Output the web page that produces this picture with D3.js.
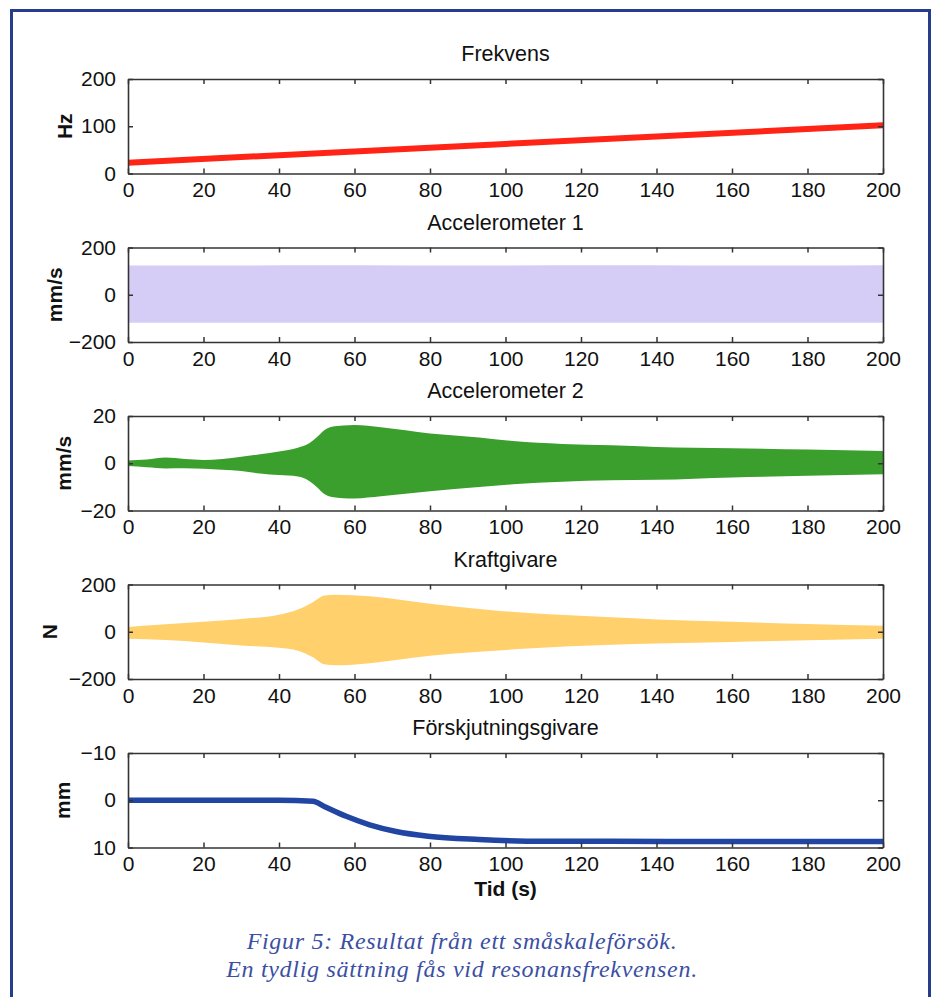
<!DOCTYPE html>
<html>
<head>
<meta charset="utf-8">
<script src="https://cdn.jsdelivr.net/npm/d3@7"></script>
<style>
  body { margin: 0; background: #fff; }
  svg { display: block; }
  .tick text, .lbl { font-family: "Liberation Sans", Arial, sans-serif; fill: #111; }
</style>
</head>
<body>
<div id="vis-container"></div>
<script>
// --- data ---
var xTicks = [0, 20, 40, 60, 80, 100, 120, 140, 160, 180, 200];

// Frekvens (Hz)
var freqT = [0, 200];
var freqHz = [23, 102];

// Accelerometer 1 (mm/s) envelope
var acc1T = [0, 25, 50, 75, 100, 125, 150, 175, 200];
var acc1Upper = [124, 124, 125, 124, 124, 125, 124, 124, 125];
var acc1Lower = [-118, -118, -119, -118, -118, -119, -118, -118, -119];

// Accelerometer 2 (mm/s) envelope
var acc2T = [0, 5, 10, 15, 20, 25, 30, 35, 40, 45, 48, 50, 52, 54, 57, 60, 67, 80, 93, 102, 115, 128, 140, 160, 180, 200];
var acc2Upper = [1.2, 1.6, 2.4, 1.8, 1.4, 1.8, 2.7, 3.8, 5.0, 6.6, 8.5, 11, 14, 15.5, 16, 16.2, 15.2, 12.6, 10.9, 9.4, 8.2, 7.6, 6.9, 6.4, 5.8, 5.2];
var acc2Lower = [-1.2, -1.7, -2.2, -2.1, -2.3, -2.7, -3.3, -4.3, -5.0, -5.6, -7.5, -10, -13, -14.3, -14.8, -14.9, -14, -11.9, -10.1, -8.9, -7.8, -7.2, -7.0, -6.0, -5.3, -4.7];

// Kraftgivare (N) envelope
var forceT = [0, 10, 20, 30, 40, 45, 49, 52, 55, 64, 80, 93, 106, 128, 140, 160, 180, 200];
var forceUpper = [20, 32, 42, 54, 72, 94, 125, 153, 157, 150, 118, 96, 79, 61, 52, 42, 33, 25];
var forceLower = [-30, -35, -45, -58, -68, -80, -108, -138, -142, -133, -102, -85, -71, -55, -50, -43, -36, -30];

// Förskjutningsgivare (mm)
var dispT = [0, 20, 40, 49, 52, 57.8, 64, 71, 79.5, 93, 110, 128, 160, 200];
var dispMm = [0, 0, 0, 0.2, 1.3, 3.4, 5.2, 6.6, 7.6, 8.3, 8.7, 8.7, 8.75, 8.75];

var titles = ["Frekvens", "Accelerometer 1", "Accelerometer 2", "Kraftgivare", "Förskjutningsgivare"];
var units = ["Hz", "mm/s", "mm/s", "N", "mm"];
var captionLines = ["Figur 5: Resultat från ett småskaleförsök.", "En tydlig sättning fås vid resonansfrekvensen."];

// --- layout ---
var width = 935, height = 997;
var left = 128, right = 883;
var panelH = 94.5;
var panelTops = [79, 247.5, 416, 584.5, 753];
var unitX = [72, 62, 71, 57, 70];

var svg = d3.select("#vis-container").append("svg")
  .attr("width", width).attr("height", height);

svg.append("rect").attr("width", width).attr("height", height).attr("fill", "#fff");

// outer frame
svg.append("rect")
  .attr("x", 11.5).attr("y", 10.5)
  .attr("width", 918).attr("height", 1010)
  .attr("fill", "none").attr("stroke", "#263d8e").attr("stroke-width", 3);

var x = d3.scaleLinear().domain([0, 200]).range([left, right]);

var panels = [
  { domain: [0, 200], ticks: [0, 100, 200], kind: "line", t: freqT, v: freqHz, color: "#ff2415", w: 6 },
  { domain: [-200, 200], ticks: [-200, 0, 200], kind: "band", t: acc1T, hi: acc1Upper, lo: acc1Lower, color: "#d6cdf6" },
  { domain: [-20, 20], ticks: [-20, 0, 20], kind: "band", t: acc2T, hi: acc2Upper, lo: acc2Lower, color: "#3a9f2c" },
  { domain: [-200, 200], ticks: [-200, 0, 200], kind: "band", t: forceT, hi: forceUpper, lo: forceLower, color: "#ffd06c" },
  { domain: [10, -10], ticks: [-10, 0, 10], kind: "line", t: dispT, v: dispMm, color: "#2145a3", w: 5.5 }
];

panels.forEach(function(p, i) {
  var top = panelTops[i], bottom = top + panelH;
  var y = d3.scaleLinear().domain(p.domain).range([bottom, top]);
  var g = svg.append("g");

  // title
  g.append("text").attr("class", "lbl")
    .attr("x", (left + right) / 2).attr("y", top - 18)
    .attr("text-anchor", "middle").style("font-size", "21.5px")
    .text(titles[i]);

  // unit label
  g.append("text").attr("class", "lbl")
    .attr("transform", "translate(" + unitX[i] + "," + (top + panelH / 2) + ") rotate(-90)")
    .attr("text-anchor", "middle").style("font-size", "21px").style("font-weight", "bold")
    .text(units[i]);

  var clipId = "clip" + i;
  svg.append("clipPath").attr("id", clipId).append("rect")
    .attr("x", left).attr("y", top).attr("width", right - left).attr("height", panelH);

  var data = p.t.map(function(t, k) {
    return p.kind === "line" ? { t: t, v: p.v[k] } : { t: t, hi: p.hi[k], lo: p.lo[k] };
  });

  if (p.kind === "band") {
    var area = d3.area()
      .x(function(d) { return x(d.t); })
      .y0(function(d) { return y(d.lo); })
      .y1(function(d) { return y(d.hi); })
      .curve(d3.curveMonotoneX);
    g.append("path").datum(data)
      .attr("clip-path", "url(#" + clipId + ")")
      .attr("d", area).attr("fill", p.color);
  } else {
    var line = d3.line()
      .x(function(d) { return x(d.t); })
      .y(function(d) { return y(d.v); })
      .curve(d3.curveMonotoneX);
    g.append("path").datum(data)
      .attr("clip-path", "url(#" + clipId + ")")
      .attr("d", line).attr("fill", "none")
      .attr("stroke", p.color).attr("stroke-width", p.w);
  }

  // axes, ticks pointing inward on all four sides
  var fmt = d3.format("d");
  var xb = g.append("g").attr("transform", "translate(0," + bottom + ")")
    .call(d3.axisBottom(x).tickValues(xTicks).tickSizeInner(-5).tickSizeOuter(0).tickPadding(12).tickFormat(fmt));
  var xt = g.append("g").attr("transform", "translate(0," + top + ")")
    .call(d3.axisTop(x).tickValues(xTicks).tickSizeInner(-5).tickSizeOuter(0).tickFormat(""));
  var yl = g.append("g").attr("transform", "translate(" + left + ",0)")
    .call(d3.axisLeft(y).tickValues(p.ticks).tickSizeInner(-5).tickSizeOuter(0).tickPadding(12).tickFormat(fmt));
  var yr = g.append("g").attr("transform", "translate(" + right + ",0)")
    .call(d3.axisRight(y).tickValues(p.ticks).tickSizeInner(-5).tickSizeOuter(0).tickFormat(""));

  [xb, xt, yl, yr].forEach(function(a) {
    a.select(".domain").attr("stroke", "#333").attr("stroke-width", 1.6);
    a.selectAll(".tick line").attr("stroke", "#333").attr("stroke-width", 1.5);
    a.selectAll(".tick text").style("font-size", "21px").attr("fill", "#111");
  });
  xb.selectAll(".tick text").attr("dy", "0.55em");
});

// x axis label
svg.append("text").attr("class", "lbl")
  .attr("x", (left + right) / 2).attr("y", 896)
  .attr("text-anchor", "middle").style("font-size", "21px").style("font-weight", "bold")
  .text("Tid (s)");

// caption
svg.selectAll(".caption").data(captionLines).enter().append("text")
  .attr("class", "caption")
  .attr("x", 462).attr("y", function(d, k) { return 949 + k * 28; })
  .attr("text-anchor", "middle")
  .style("font-family", "'Liberation Serif', 'Times New Roman', serif")
  .style("font-style", "italic").style("font-size", "24px")
  .style("letter-spacing", "0.7px")
  .attr("fill", "#3b4fa3")
  .text(function(d) { return d; });
</script>
</body>
</html>
